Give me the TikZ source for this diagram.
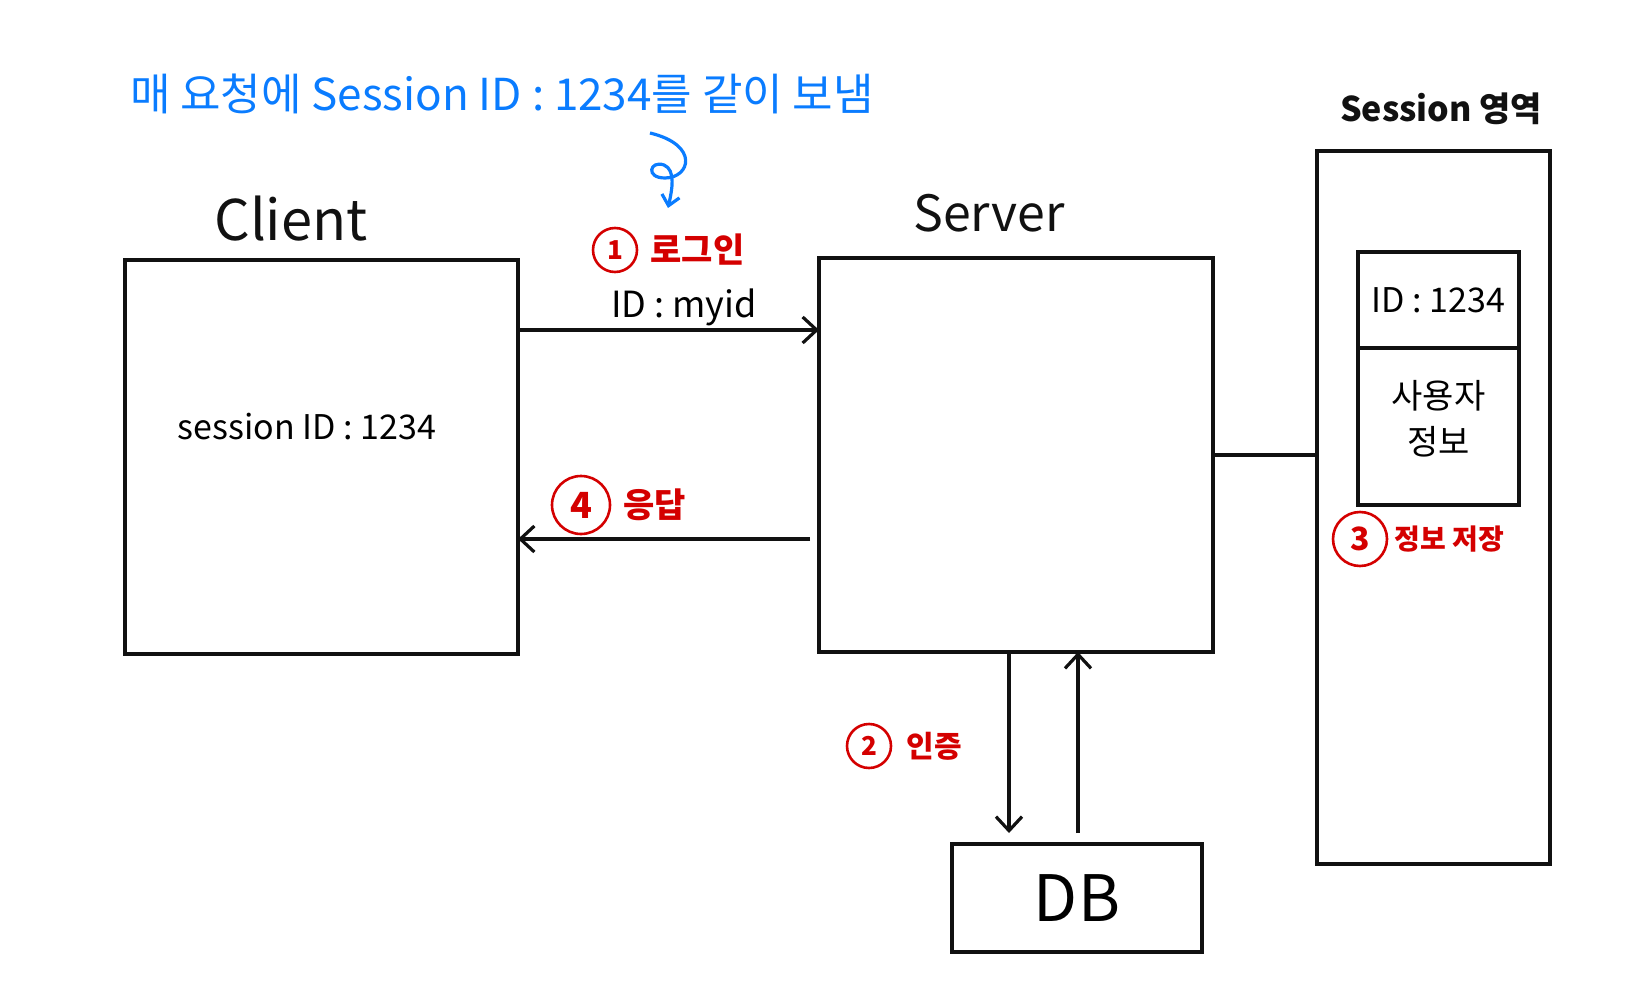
\documentclass[tikz,border=0pt]{standalone}
\usepackage{fontspec}
\setmainfont{Noto Sans CJK KR}
\usetikzlibrary{positioning, arrows.meta}
\definecolor{pen}{HTML}{111111}
\definecolor{note}{HTML}{0A7CFF}
\definecolor{mark}{HTML}{D40000}
\newcommand{\fsz}[1]{\fontsize{#1}{#1}\selectfont}

\begin{document}
\begin{tikzpicture}[x=0.5pt, y=-0.5pt,
      every node/.style={inner sep=0pt},
      box/.style={draw=pen, line width=1.6pt, rectangle, outer sep=0pt},
      flow/.style={draw=pen, line width=1.6pt,
        -{Straight Barb[length=7pt, width=13pt]}},
      numc/.style={circle, draw=mark, line width=1.3pt, text=mark,
        font=\fsz{13}\bfseries},
      redtxt/.style={text=mark, font=\fsz{17}\bfseries},
      ttl/.style={text=pen, font=\fsz{28}}]

    \useasboundingbox (0,0) rectangle (1632,1000);

    % boxes
    \node[box, minimum width=196.5pt, minimum height=197pt] (client) at (321.5,457) {};
    \node[box, minimum width=197pt, minimum height=197pt] (server) at (1016,455) {};
    \node[box, minimum width=116.5pt, minimum height=356.5pt] (area) at (1433.5,507.5) {};
    \node[box, minimum width=125pt, minimum height=54pt] (db) at (1077,898) {};
    \node[box, minimum width=80.5pt, minimum height=48pt] (idcell) at (1438.5,300) {};
    \node[box, minimum width=80.5pt, minimum height=78.5pt, below=0pt of idcell] (infocell) {};

    % titles
    \node[ttl] (clientlbl) at (291,219) {Client};
    \node[ttl, font=\fsz{25}] (serverlbl) at (989,213) {Server};
    \node[ttl, font=\fsz{17}\bfseries] (arealbl) at (1441,109) {Session 영역};
    \node[font=\fsz{32}] (dblbl) at (db) {DB};
    \node[font=\fsz{17}] (cookie) at (307,427) {session ID : 1234};
    \node[font=\fsz{17}] (idtxt) at (idcell) {ID : 1234};
    \node[font=\fsz{17}, align=center] (infotxt) at ([yshift=4pt]infocell) {사용자\\[6pt]정보};

    % note
    \node[text=note, font=\fsz{22}] (note) at (502,94) {매 요청에 Session ID : 1234를 같이 보냄};
    \coordinate (curlstart) at (650,133);
    \coordinate (curlend) at (668,208);
    \draw[note, line width=1.6pt, -{Straight Barb[length=5pt, width=9pt]}]
      (curlstart) .. controls (700,145) and (690,178) .. (665,178)
      .. controls (645,178) and (650,160) .. (664,165)
      .. controls (676,170) and (672,190) .. (curlend);

    % steps
    \node[numc, minimum size=22pt] (c1) at (615,250) {1};
    \node[redtxt, right=6pt of c1] (login) {로그인};
    \node[font=\fsz{18}] (myid) at (684,307) {ID : myid};

    \node[numc, minimum size=29pt, font=\fsz{18}\bfseries] (c4) at (581,505) {4};
    \node[redtxt, right=6pt of c4] (resp) {응답};

    \node[numc, minimum size=22pt] (c2) at (869,746) {2};
    \node[redtxt, font=\fsz{15}\bfseries, right=7pt of c2] (auth) {인증};

    \node[numc, minimum size=27pt, font=\fsz{16}\bfseries] (c3) at (1360,539) {3};
    \node[redtxt, font=\fsz{14}\bfseries, right=3pt of c3] (store) {정보 저장};

    % connectors
    \draw[flow] (client.east |- 0,330) -- (server.west |- 0,330);
    \draw[flow, shorten <=4.5pt] (server.west |- 0,539) -- (client.east |- 0,539);
    \draw[flow, shorten >=5.5pt] (server.south -| 1009,0) -- (db.north -| 1009,0);
    \draw[flow, shorten <=5.5pt] (db.north -| 1078,0) -- (server.south -| 1078,0);
    \draw[draw=pen, line width=1.6pt] (server.east) -- (area.west |- server.east);
  \end{tikzpicture}
\end{document}
